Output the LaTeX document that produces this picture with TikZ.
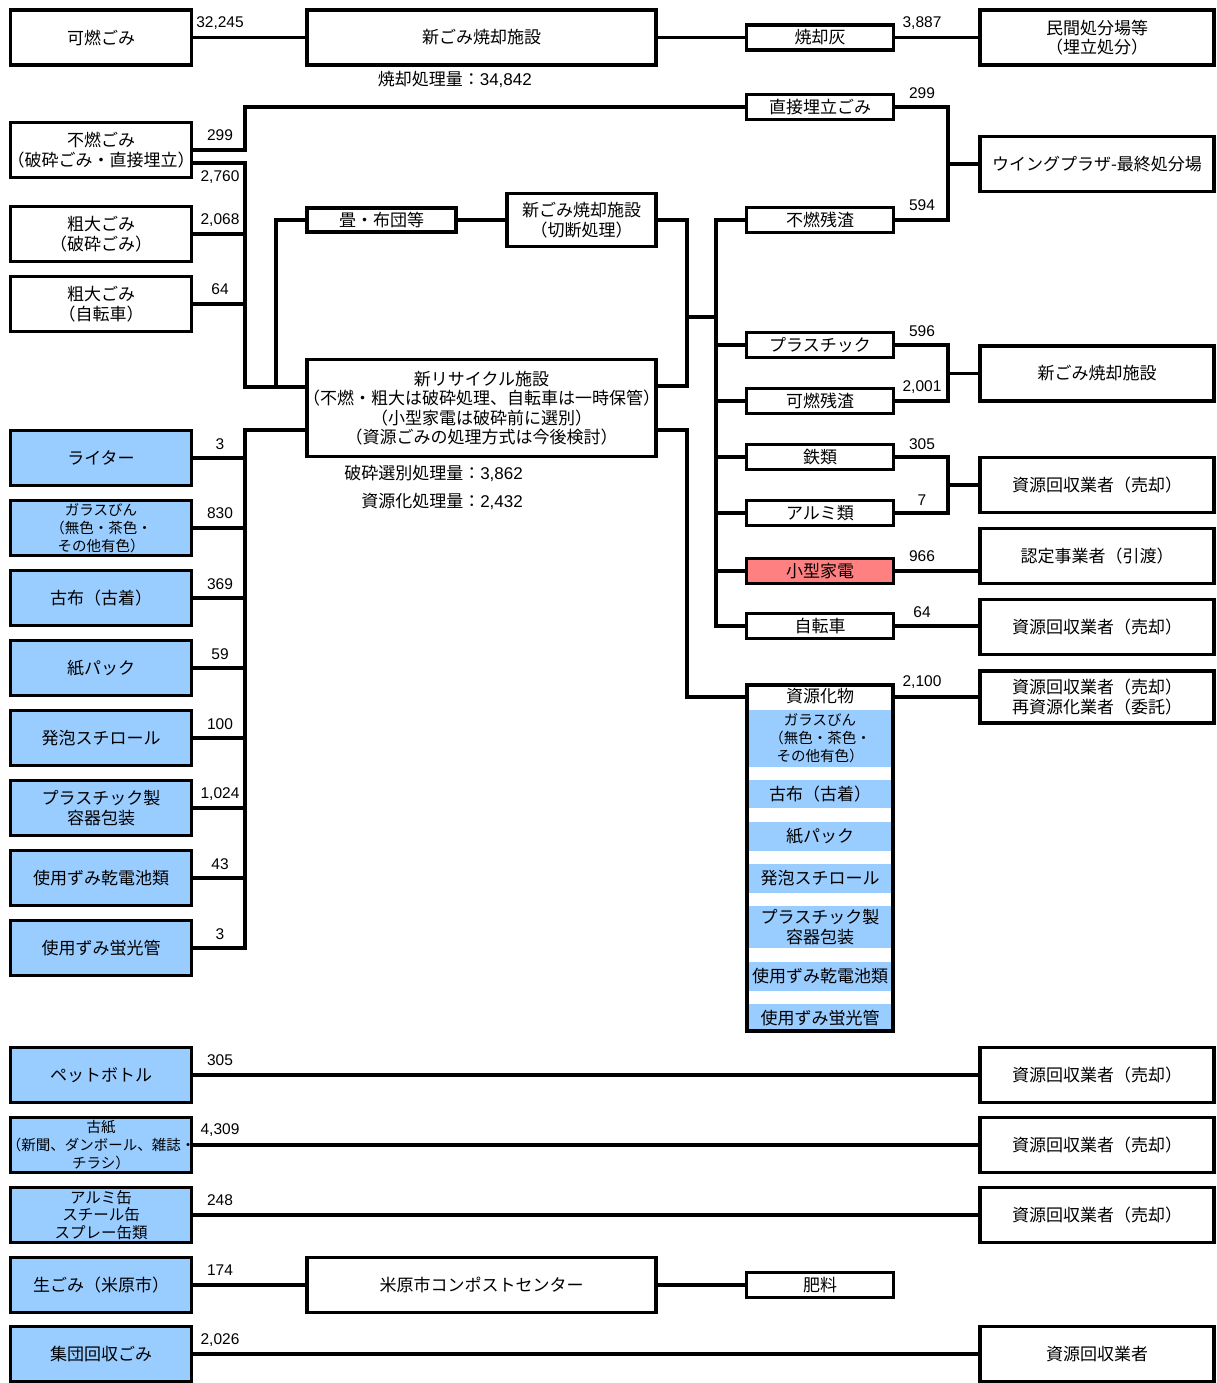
\documentclass[tikz,border=0pt]{standalone}
\usepackage{fontspec}
\setmainfont{Noto Sans CJK JP}
\newfontfamily\numfont{Liberation Sans}
\definecolor{lblue}{HTML}{99CCFF}
\definecolor{lred}{HTML}{FF8080}
\begin{document}
\begin{tikzpicture}[x=1pt,y=-1pt,
 every node/.style={font=\fontsize{17}{19.5}\selectfont, inner sep=0pt, align=center},
 bx/.style={draw, line width=3.5pt},
 lbox/.style={bx, minimum width=181pt, minimum height=55pt},
 bluebox/.style={lbox, fill=lblue},
 mbox/.style={bx, minimum width=349pt, minimum height=55pt},
 sbox/.style={bx, minimum width=147pt, minimum height=25pt},
 rbox/.style={bx, minimum width=234pt, minimum height=55pt},
 conn/.style={line width=3.5pt},
 num/.style={font=\numfont\fontsize{15.5}{18}\selectfont},
 band/.style={fill=lblue, minimum width=143pt}
]
\useasboundingbox (0,0) rectangle (1217,1383);

% ---------- left column ----------
\node[lbox] (kanen) at (101,37.5) {可燃ごみ};
\node[lbox] (funen) at (101,150) {不燃ごみ\\\makebox[172pt]{（破砕ごみ・直接埋立）}};
\node[lbox] (sodai1) at (101,234) {粗大ごみ\\（破砕ごみ）};
\node[lbox] (sodai2) at (101,304) {粗大ごみ\\（自転車）};
\node[bluebox] (raita) at (101,458) {ライター};
\node[bluebox, font=\fontsize{14.5}{18}\selectfont] (garasu) at (101,528) {ガラスびん\\（無色・茶色・\\その他有色）};
\node[bluebox] (furununo) at (101,598) {古布（古着）};
\node[bluebox] (kamipack) at (101,668) {紙パック};
\node[bluebox] (happo) at (101,738) {発泡スチロール};
\node[bluebox] (pura) at (101,808) {プラスチック製\\容器包装};
\node[bluebox] (kandenchi) at (101,878) {使用ずみ乾電池類};
\node[bluebox] (keiko) at (101,948) {使用ずみ蛍光管};
\node[bluebox] (pet) at (101,1075) {ペットボトル};
\node[bluebox, font=\fontsize{14.5}{18}\selectfont] (koshi) at (101,1145) {古紙\\\makebox[174pt]{（新聞、ダンボール、雑誌・}\\チラシ）};
\node[bluebox, font=\fontsize{15.5}{17.5}\selectfont] (kan) at (101,1215) {アルミ缶\\スチール缶\\スプレー缶類};
\node[bluebox] (nama) at (101,1285) {生ごみ（米原市）};
\node[bluebox] (shudan) at (101,1354) {集団回収ごみ};

% ---------- middle column ----------
\node[mbox] (shin1) at (481.5,37.5) {新ごみ焼却施設};
\node[anchor=east] (shoukyakuryo) at (532,79) {焼却処理量：{\numfont 34,842}};
\node[bx, minimum width=149pt, minimum height=24pt] (tatami) at (381.5,220) {畳・布団等};
\node[bx, minimum width=149pt, minimum height=53pt] (setsudan) at (581.5,220) {新ごみ焼却施設\\（切断処理）};
\node[mbox, minimum height=97pt] (recyc) at (481.5,408) {新リサイクル施設\\\makebox[340pt]{（不燃・粗大は破砕処理、自転車は一時保管）}\\（小型家電は破砕前に選別）\\（資源ごみの処理方式は今後検討）};
\node[anchor=east] (hasairyo) at (523,473) {破砕選別処理量：{\numfont 3,862}};
\node[anchor=east] (shigenryo) at (523,501) {資源化処理量：{\numfont 2,432}};
\node[mbox] (compost) at (481.5,1285) {米原市コンポストセンター};

% ---------- right-middle column ----------
\node[sbox] (ash) at (820,37.5) {焼却灰};
\node[sbox] (chokusetsu) at (820,107) {直接埋立ごみ};
\node[sbox] (funenzan) at (820,220) {不燃残渣};
\node[sbox] (plastic) at (820,345) {プラスチック};
\node[sbox] (kanenzan) at (820,401) {可燃残渣};
\node[sbox] (tetsu) at (820,457) {鉄類};
\node[sbox] (alumi) at (820,513) {アルミ類};
\node[sbox, fill=lred] (kogata) at (820,571) {小型家電};
\node[sbox] (jitensha) at (820,626) {自転車};
\node[sbox] (hiryo) at (820,1285) {肥料};

% resources box
\node[band, minimum height=57pt, font=\fontsize{14.5}{18}\selectfont] (b1) at (820,738.5) {ガラスびん\\（無色・茶色・\\その他有色）};
\node[band, minimum height=28pt] (b2) at (820,794) {古布（古着）};
\node[band, minimum height=29pt] (b3) at (820,836.5) {紙パック};
\node[band, minimum height=29pt] (b4) at (820,878.5) {発泡スチロール};
\node[band, minimum height=42pt] (b5) at (820,927) {プラスチック製\\容器包装};
\node[band, minimum height=29pt] (b6) at (820,976.5) {使用ずみ乾電池類};
\node[band, minimum height=28pt] (b7) at (820,1018) {使用ずみ蛍光管};
\node[bx, minimum width=146pt, minimum height=346pt] (shigenka) at (820,858) {};
\node (shigenhead) at (820,696) {資源化物};

% ---------- right column ----------
\node[rbox] (minkan) at (1097,37.5) {民間処分場等\\（埋立処分）};
\node[rbox] (wing) at (1097,164) {ウイングプラザ-最終処分場};
\node[rbox] (shinkyaku2) at (1097,373.5) {新ごみ焼却施設};
\node[rbox] (kaishu1) at (1097,485) {資源回収業者（売却）};
\node[rbox] (nintei) at (1097,556) {認定事業者（引渡）};
\node[rbox] (kaishu2) at (1097,627) {資源回収業者（売却）};
\node[rbox, minimum height=52pt] (saishigen) at (1097,697) {資源回収業者（売却）\\再資源化業者（委託）};
\node[rbox] (kaishu3) at (1097,1075) {資源回収業者（売却）};
\node[rbox] (kaishu4) at (1097,1145) {資源回収業者（売却）};
\node[rbox] (kaishu5) at (1097,1215) {資源回収業者（売却）};
\node[rbox] (kaishu6) at (1097,1354) {資源回収業者};

% ---------- junction coordinates ----------
\coordinate (busTop) at (245,163);
\coordinate (busBot) at (245,387);
\coordinate (tatamiBot) at (276,387);
\coordinate (blueTop) at (245,430);
\coordinate (blueBot) at (245,948);
\coordinate (distTop) at (716,220);
\coordinate (distBot) at (716,626);
\coordinate (cutMid) at (687,317);

% ---------- connectors ----------
\draw[conn] (kanen.east) -- (shin1.west);
\draw[conn] (shin1.east) -- (ash.west);
\draw[conn] (ash.east) -- (minkan.west);

\draw[conn] (funen.east) -- (245,150) |- (chokusetsu.west);
\draw[conn] ([yshift=-13pt]funen.east) -- (busTop) -- (busBot) -- ([yshift=21pt]recyc.west);
\draw[conn] (sodai1.east) -- (245,234);
\draw[conn] (sodai2.east) -- (245,304);
\draw[conn] (tatami.west) -- (276,220) -- (tatamiBot);
\draw[conn] (tatami.east) -- (setsudan.west);
\draw[conn] (setsudan.east) -- (687,220) -- (687,386) -- ([yshift=22pt]recyc.east);
\draw[conn] (cutMid) -- (716,317);

\draw[conn] ([yshift=-22pt]recyc.west) -- (blueTop) -- (blueBot) -- (keiko.east);
\foreach \n/\y in {raita/458,garasu/528,furununo/598,kamipack/668,happo/738,pura/808,kandenchi/878}
  \draw[conn] (\n.east) -- (245,\y);

\draw[conn] (funenzan.west) -- (distTop) -- (distBot) -- (jitensha.west);
\foreach \n/\y in {plastic/345,kanenzan/401,tetsu/457,alumi/513,kogata/571}
  \draw[conn] (716,\y) -- (\n.west);

\draw[conn] ([yshift=-22pt]recyc.east) -- (687,430) -- (687,697) -- ([yshift=161pt]shigenka.west);
\draw[conn] ([yshift=161pt]shigenka.east) -- (saishigen.west);

\draw[conn] (chokusetsu.east) -- (948,107) -- (948,220) -- (funenzan.east);
\draw[conn] (948,164) -- (wing.west);
\draw[conn] (plastic.east) -- (948,345) -- (948,401) -- (kanenzan.east);
\draw[conn] (948,373.5) -- (shinkyaku2.west);
\draw[conn] (tetsu.east) -- (948,457) -- (948,513) -- (alumi.east);
\draw[conn] (948,485) -- (kaishu1.west);
\draw[conn] (kogata.east) -- (kogata.east -| nintei.west);
\draw[conn] (jitensha.east) -- (jitensha.east -| kaishu2.west);

\draw[conn] (pet.east) -- (kaishu3.west);
\draw[conn] (koshi.east) -- (kaishu4.west);
\draw[conn] (kan.east) -- (kaishu5.west);
\draw[conn] (nama.east) -- (compost.west);
\draw[conn] (compost.east) -- (hiryo.west);
\draw[conn] (shudan.east) -- (kaishu6.west);

% ---------- quantity labels ----------
\foreach \t/\x/\y in {32{,}245/220/23, 299/220/135, 2{,}760/220/177, 2{,}068/220/220, 64/220/289,
  3/220/444, 830/220/513, 369/220/584, 59/220/654, 100/220/724, 1{,}024/220/794, 43/220/864, 3/220/934,
  305/220/1060, 4{,}309/220/1130, 248/220/1200, 174/220/1270, 2{,}026/220/1340,
  3{,}887/922/23, 299/922/93, 594/922/205, 596/922/331, 2{,}001/922/387, 305/922/444, 7/922/500,
  966/922/556, 64/922/612, 2{,}100/922/682}
  \node[num] at (\x,\y) {\t};
\end{tikzpicture}
\end{document}
